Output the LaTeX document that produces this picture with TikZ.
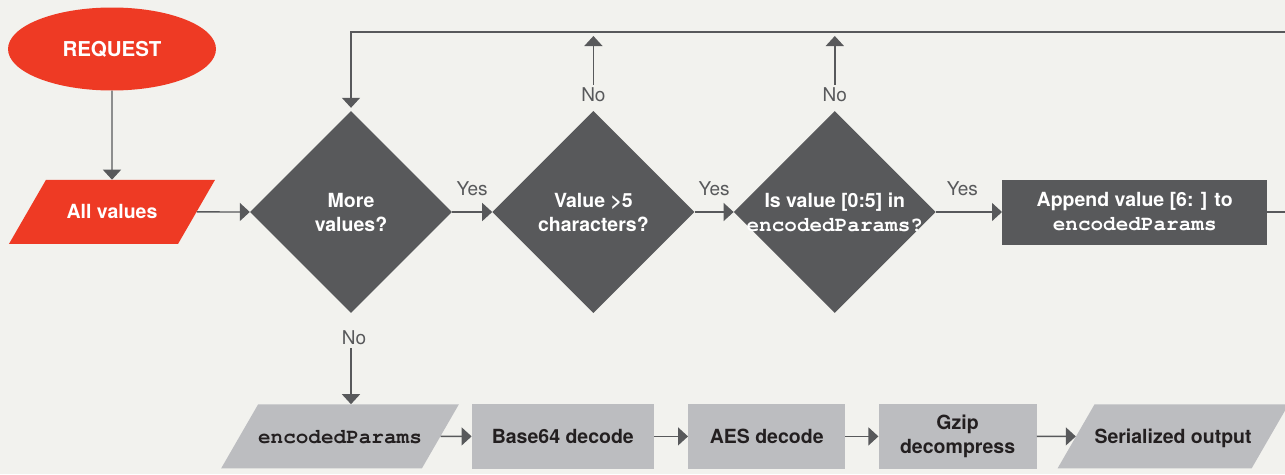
\documentclass[tikz,border=0pt]{standalone}
\usepackage{fontspec}
\setmainfont{TeX Gyre Heros}
\setmonofont{TeX Gyre Cursor}
\usepackage{tikz}
\usetikzlibrary{positioning, arrows.meta, shapes.geometric}
\usepackage{xcolor}
\definecolor{req-red}{HTML}{EE3A24}
\definecolor{box-dark}{HTML}{58595B}
\definecolor{box-light}{HTML}{BCBDC0}
\definecolor{paper}{HTML}{F2F2EE}
\definecolor{ink}{HTML}{231F20}
\newcommand{\param}[1]{{\ttfamily\fontsize{21}{24}\selectfont #1}}

\tikzset{
	base/.style={font=\bfseries\fontsize{19.5}{24}\selectfont, align=center, inner sep=0pt},
	terminal/.style={base, ellipse, fill=req-red, text=white, minimum width=208pt, minimum height=83pt},
	io/.style={base, trapezium, trapezium left angle=60, trapezium right angle=120, trapezium stretches body,
		text height=14pt, text depth=0pt, inner ysep=25pt, inner xsep=0pt, minimum width=221pt},
	decision/.style={base, diamond, aspect=1, fill=box-dark, text=white, minimum width=202pt, minimum height=202pt, inner sep=-10pt},
	process/.style={base, rectangle, fill=box-light, text=ink, minimum height=65pt},
	answer/.style={font=\fontsize{19}{22}\selectfont, text=box-dark},
	flow/.style={->, line width=1.4pt, draw=box-dark},
	>={Triangle[length=10pt, width=18pt]}
}

\begin{document}
\begin{tikzpicture}[x=1pt, y=-1pt, node distance=34pt]
	\fill[paper] (0,0) rectangle (1285,474);
	\useasboundingbox (0,0) rectangle (1285,474);
	\clip (0,0) rectangle (1285,474);
	% top row
	\node[terminal, font=\bfseries\fontsize{20.5}{24}\selectfont] (request) at (112,49) {REQUEST};
	\node[io, fill=req-red, text=white, minimum width=206pt, below=89pt of request] (allvalues) {All values};
	\node[decision] (more) at (351,212) {More\\values?};
	\node[decision, right=40pt of more] (longer) {Value >5\\characters?};
	\node[decision, right=39pt of longer] (known) {Is value [0:5] in\\\param{encodedParams?}};
	\node[process, fill=box-dark, text=white, minimum width=265pt, right=66pt of known] (append) {Append value [6: ] to\\\param{encodedParams}};
	% answers
	\node[answer, above=5pt of longer] (longerno) {No};
	\node[answer, above=5pt of known] (knownno) {No};
	\node[answer, below=14pt of more, xshift=3pt] (moreno) {No};
	% bottom row
	\node[io, fill=box-light, text=ink, below=91pt of more, xshift=-11pt] (params) {\param{encodedParams}};
	\node[process, minimum width=182pt, right=31pt of params] (base64) {Base64 decode};
	\node[process, minimum width=157pt, right=of base64] (aes) {AES decode};
	\node[process, minimum width=158pt, right=33pt of aes] (gzip) {Gzip\\decompress};
	\node[io, fill=box-light, text=ink, right=39pt of gzip] (output) {Serialized output};
	\coordinate (looptop) at (351,32);
	\coordinate (loopright) at (1310,32);
	\draw[flow] (request) -- (allvalues);
	\draw[flow] (allvalues.east) -- (more.west);
	\draw[flow] (more) -- node[answer, above=12pt] {Yes} (longer);
	\draw[flow] (longer) -- node[answer, above=12pt] {Yes} (known);
	\draw[flow] (known) -- node[answer, above=12pt, pos=0.4] {Yes} (append);
	\draw[flow, shorten >=4pt] (longerno) -- (longerno |- looptop);
	\draw[flow, shorten >=4pt] (knownno) -- (knownno |- looptop);
	\draw[flow, shorten >=3pt] (append.east) -| (loopright) -| (more.north);
	\draw[flow] (moreno.south -| more) -- (more |- params.north);
	\draw[flow] (params) -- (base64);
	\draw[flow] (base64) -- (aes);
	\draw[flow] (aes) -- (gzip);
	\draw[flow] (gzip) -- (output);
\end{tikzpicture}
\end{document}
